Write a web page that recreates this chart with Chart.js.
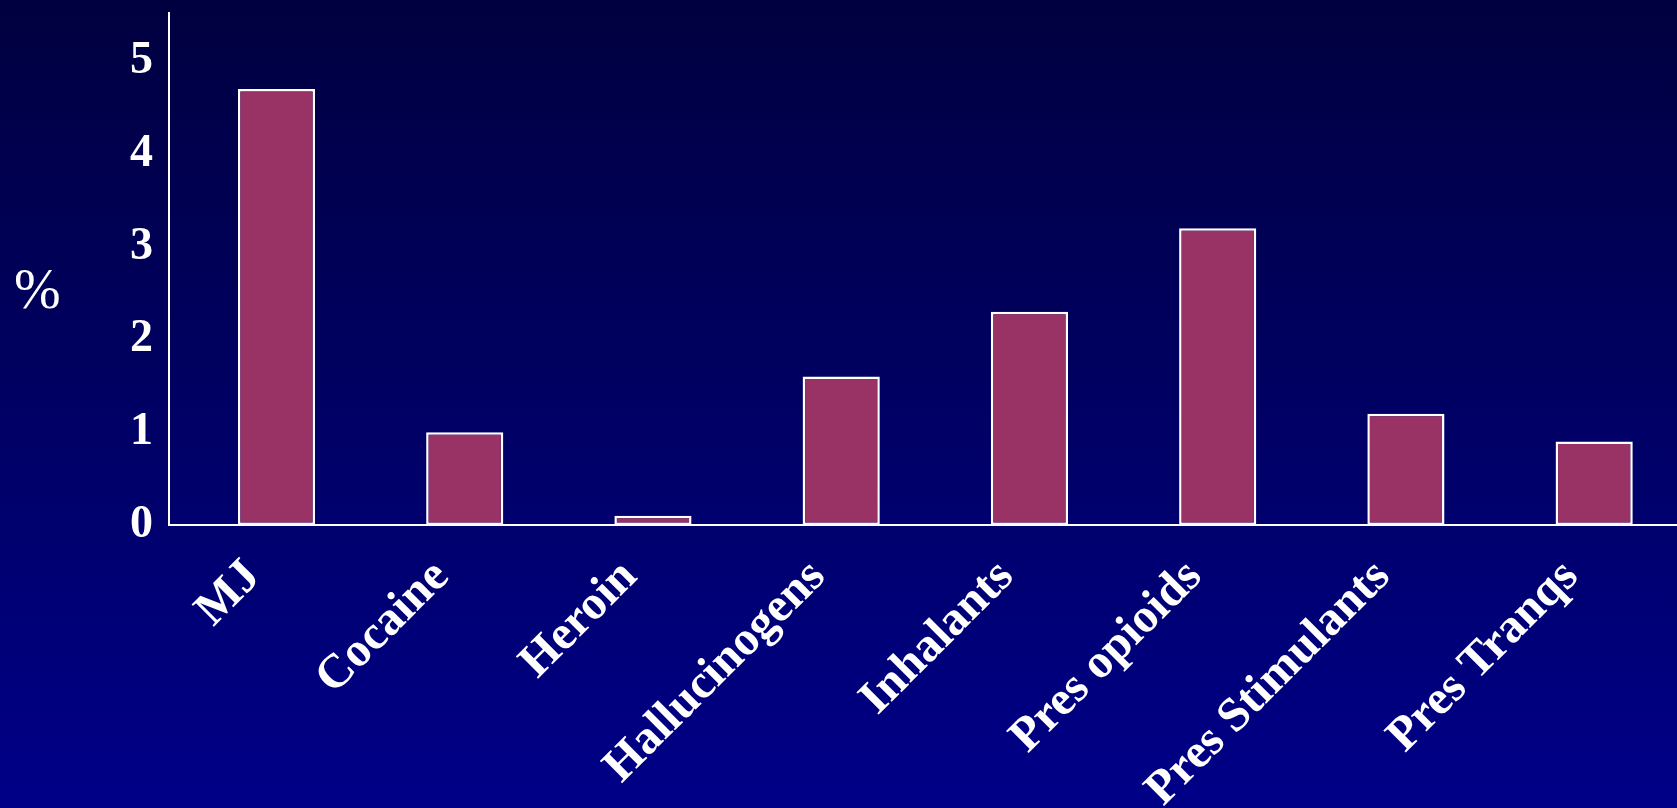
<!DOCTYPE html>
<html>
<head>
<meta charset="utf-8">
<script src="https://cdn.jsdelivr.net/npm/chart.js@4/dist/chart.umd.min.js"></script>
<style>
    html, body { margin: 0; padding: 0; width: 1677px; height: 808px; overflow: hidden; }
    body { background: linear-gradient(to bottom, #000040, #000088); position: relative; }
    #wrap { position: absolute; left: 0; top: 0; width: 1677px; height: 808px; }
    #unit { position: absolute; left: 14px; top: 261px; color: #fff; font: 56px "Liberation Serif", serif; line-height: 1; }
</style>
</head>
<body>
<div id="wrap"><canvas id="chart"></canvas></div>
<div id="unit">%</div>
<script>
// Données
const categories = ['MJ', 'Cocaine', 'Heroin', 'Hallucinogens', 'Inhalants', 'Pres opioids', 'Pres Stimulants', 'Pres Tranqs'];
const percents = [4.7, 1.0, 0.1, 1.6, 2.3, 3.2, 1.2, 0.9];
const yTicks = [0, 1, 2, 3, 4, 5];

const white = '#ffffff';
const serif = '"Liberation Serif", "Times New Roman", serif';

const ctx = document.getElementById('chart').getContext('2d');
new Chart(ctx, {
    type: 'bar',
    data: {
        datasets: [{
            data: categories.map((c, i) => ({ x: i, y: percents[i] })),
            backgroundColor: '#993366',
            borderColor: white,
            borderWidth: 2.5,
            borderSkipped: false,
            barPercentage: 0.41,
            categoryPercentage: 1
        }]
    },
    options: {
        responsive: true,
        maintainAspectRatio: false,
        animation: false,
        layout: { padding: { top: 13, left: 0, right: 0, bottom: 0 } },
        plugins: { legend: { display: false }, tooltip: { enabled: false } },
        scales: {
            x: {
                type: 'linear',
                offset: false,
                min: -0.571,
                max: 7.44,
                afterFit: s => { s.height = 283; s.paddingLeft = 0; s.paddingRight = 0; },
                grid: { display: false, drawTicks: false },
                border: { color: white, width: 2 },
                ticks: {
                    stepSize: 1,
                    includeBounds: false,
                    autoSkip: false,
                    maxRotation: 45,
                    minRotation: 45,
                    padding: 24,
                    labelOffset: -23,
                    color: white,
                    font: { family: serif, size: 48, weight: 'bold' },
                    callback: v => categories[v] ?? ''
                }
            },
            y: {
                min: 0,
                max: 5.52,
                afterFit: s => { s.width = 169; s.paddingTop = 0; s.paddingBottom = 0; },
                afterBuildTicks: s => { s.ticks = yTicks.map(v => ({ value: v })); },
                grid: { display: false, drawTicks: false },
                border: { color: white, width: 2 },
                ticks: {
                    padding: 16,
                    color: white,
                    font: { family: serif, size: 46, weight: 'bold' }
                }
            }
        }
    }
});
</script>
</body>
</html>
